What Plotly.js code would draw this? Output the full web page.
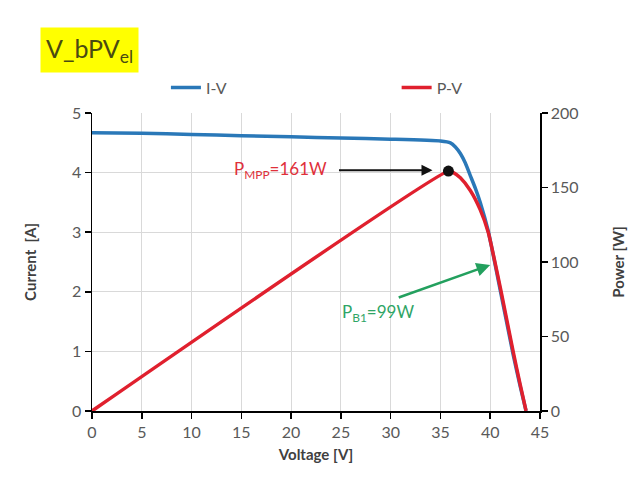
<!DOCTYPE html>
<html>
<head>
<meta charset="utf-8">
<script src="https://cdn.plot.ly/plotly-3.0.1.min.js"></script>
<style>html,body{margin:0;padding:0;background:#fff;}#chart{width:643px;height:494px;}</style>
</head>
<body>
<div id="chart"></div>
<script>
// I-V curve (voltage [V], current [A])
var ivVoltage = [0, 5, 10, 15, 20, 25, 30, 35, 36, 36.5, 37, 37.5, 38, 38.5, 39, 39.8, 41.1, 42.3, 43.0, 43.6];
var ivCurrent = [4.67, 4.66, 4.64, 4.62, 4.60, 4.58, 4.56, 4.53, 4.50, 4.43, 4.32, 4.16, 3.95, 3.74, 3.50, 3.02, 1.95, 0.95, 0.42, 0];
// P-V curve (voltage [V], power [W])
var pvVoltage = [0, 35.8, 36.3, 37, 38, 39, 39.8, 41.1, 42.3, 43.0, 43.6];
var pvPower = [0, 161, 160, 156.5, 148, 135, 120, 80, 40, 18, 0];
// Maximum power point
var mppVoltage = [35.8];
var mppPower = [161];
var xTicks = [0, 5, 10, 15, 20, 25, 30, 35, 40, 45];
var yTicks = [0, 1, 2, 3, 4, 5];
var y2Ticks = [0, 50, 100, 150, 200];

var FONT = 'Lato, "Open Sans", sans-serif';
var tickFont = {family: FONT, size: 16, color: '#595959'};
var titleFont = {family: FONT, size: 15, color: '#404040', weight: 'bold'};
var legendFont = {family: FONT, size: 16, color: '#595959'};

var traces = [
  {x: ivVoltage, y: ivCurrent, name: 'I-V', type: 'scatter', mode: 'lines',
   line: {color: '#2a78b8', width: 3.5, shape: 'spline', smoothing: 0.5}, yaxis: 'y', legend: 'legend'},
  {x: pvVoltage, y: pvPower, name: 'P-V', type: 'scatter', mode: 'lines',
   line: {color: '#e0202e', width: 3.5, shape: 'spline', smoothing: 0.5}, yaxis: 'y2', legend: 'legend2'},
  {x: mppVoltage, y: mppPower, name: 'MPP', type: 'scatter', mode: 'markers',
   marker: {color: '#111', size: 11}, yaxis: 'y2', showlegend: false}
];

var layout = {
  width: 643, height: 494,
  margin: {l: 92, r: 103, t: 113, b: 83},
  paper_bgcolor: '#fff', plot_bgcolor: '#fff',
  showlegend: true,
  legend: {orientation: 'h', x: 0.165, y: 1.085, xanchor: 'left', yanchor: 'middle',
           bgcolor: 'rgba(0,0,0,0)', font: legendFont},
  legend2: {orientation: 'h', x: 0.68, y: 1.085, xanchor: 'left', yanchor: 'middle',
           bgcolor: 'rgba(0,0,0,0)', font: legendFont},
  xaxis: {range: [0, 45], tickvals: xTicks, ticktext: xTicks.map(String),
          showgrid: true, gridcolor: '#d9d9d9', gridwidth: 1,
          showline: true, linecolor: '#000', linewidth: 1.5,
          ticks: 'outside', ticklen: 6, tickcolor: '#000', tickwidth: 1.5,
          zeroline: false, tickfont: tickFont,
          title: {text: 'Voltage [V]', font: titleFont, standoff: 10}},
  yaxis: {range: [0, 5], tickvals: yTicks, ticktext: yTicks.map(String),
          showgrid: true, gridcolor: '#d9d9d9', gridwidth: 1,
          showline: true, linecolor: '#000', linewidth: 1.5,
          ticks: 'outside', ticklen: 6, tickcolor: '#000', tickwidth: 1.5,
          zeroline: false, tickfont: tickFont,
          title: {text: 'Current  [A]', font: titleFont, standoff: 32}},
  yaxis2: {range: [0, 200], tickvals: y2Ticks, ticktext: y2Ticks.map(String),
           overlaying: 'y', side: 'right', showgrid: false,
           showline: true, linecolor: '#000', linewidth: 1.5,
           ticks: 'outside', ticklen: 6, tickcolor: '#000', tickwidth: 1.5,
           zeroline: false, tickfont: tickFont,
           title: {text: 'Power [W]', font: titleFont, standoff: 36}},
  annotations: [
    {xref: 'paper', yref: 'paper', x: -0.116, y: 1.21, xanchor: 'left', yanchor: 'middle',
     text: 'V_bPV<sub>el</sub>', showarrow: false, bgcolor: '#ffff00', borderpad: 5,
     font: {family: FONT, size: 25, color: '#4a4a12'}},
    {x: 34.2, y: 4.04, xref: 'x', yref: 'y', ax: -95, ay: 0, axref: 'pixel', ayref: 'pixel',
     text: '', showarrow: true, arrowhead: 2, arrowsize: 1.1, arrowwidth: 2, arrowcolor: '#111'},
    {x: 18.9, y: 4.04, xref: 'x', yref: 'y', showarrow: false,
     text: 'P<sub>MPP</sub>=161W',
     font: {family: FONT, size: 17, color: '#e0303a'}},
    {x: 40.0, y: 2.45, xref: 'x', yref: 'y', ax: -93, ay: 33, axref: 'pixel', ayref: 'pixel',
     text: '', showarrow: true, arrowhead: 2, arrowsize: 1.1, arrowwidth: 2.5, arrowcolor: '#23a05e'},
    {x: 28.7, y: 1.64, xref: 'x', yref: 'y', showarrow: false,
     text: 'P<sub>B1</sub>=99W',
     font: {family: FONT, size: 17, color: '#2fa566'}}
  ]
};

Plotly.newPlot('chart', traces, layout, {displayModeBar: false, staticPlot: true});
</script>
</body>
</html>
